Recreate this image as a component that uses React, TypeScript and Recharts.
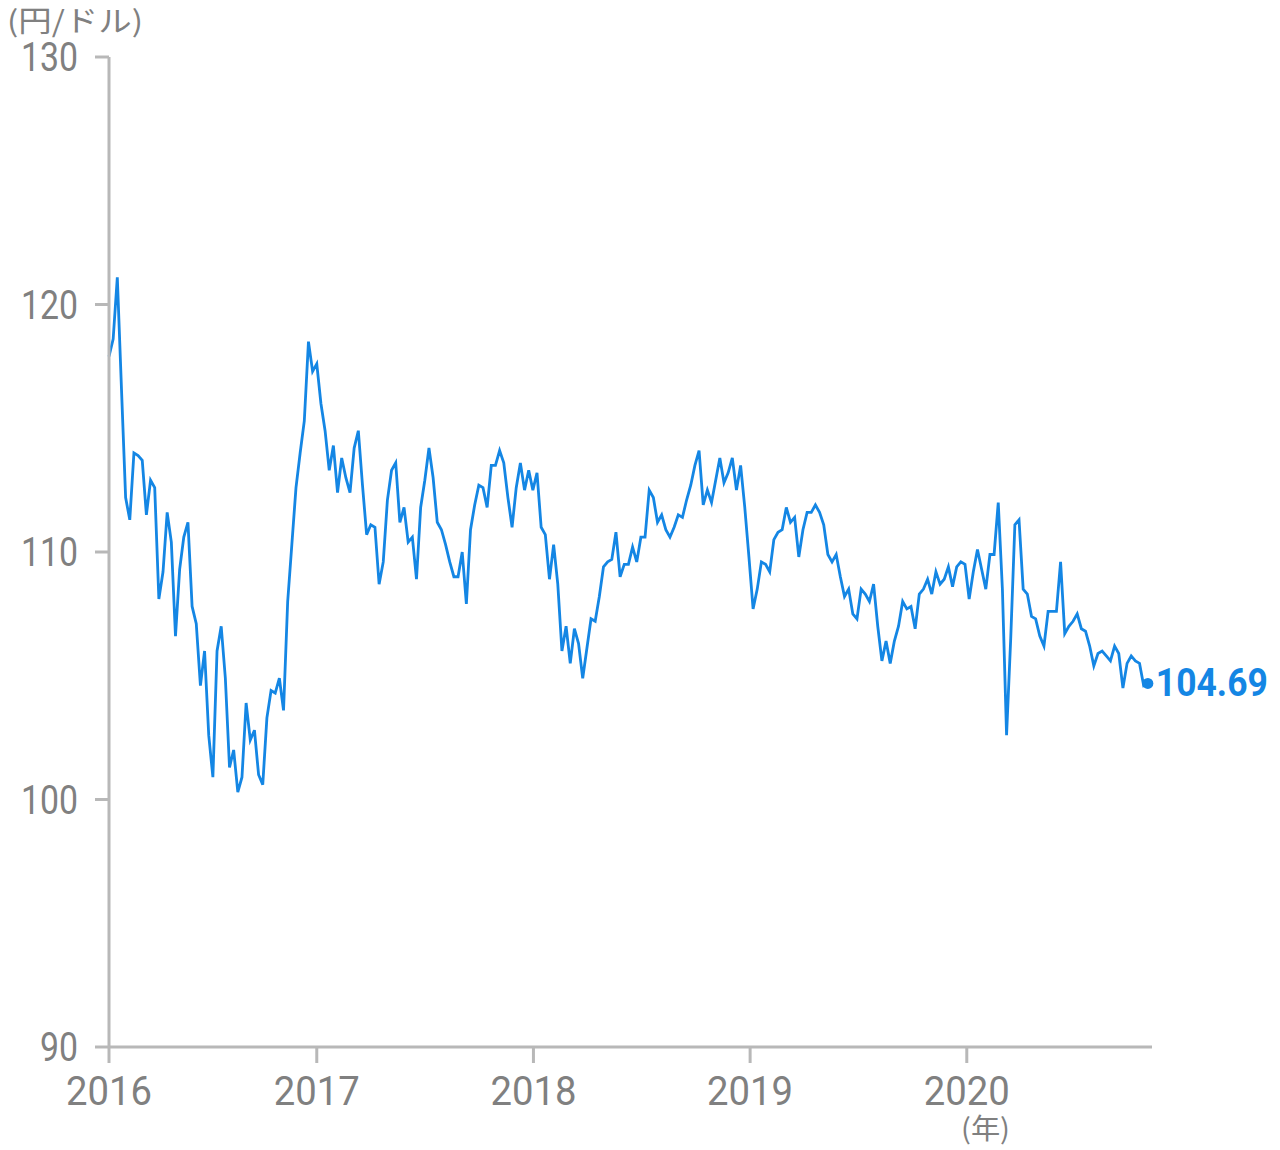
import React from "react";
import { LineChart, Line, XAxis, YAxis } from "recharts";

// Weekly USD/JPY readings, first week starting 2016-01-17
const START = Date.UTC(2016, 0, 17);
const WEEK = 7 * 86400000;
const WEEK_COUNT = 251;

const rates: number[] = [
  117.9, 118.6, 121.1, 116.6, 112.2, 111.3, 114.0, 113.9, 113.7, 111.5,
  112.9, 112.6, 108.1, 109.2, 111.6, 110.4, 106.6, 109.3, 110.6, 111.2,
  107.8, 107.1, 104.6, 106.0, 102.6, 100.9, 106.0, 107.0, 104.9, 101.3,
  102.0, 100.3, 100.9, 103.9, 102.4, 102.8, 101.0, 100.6, 103.3, 104.4,
  104.3, 104.9, 103.6, 108.0, 110.3, 112.6, 114.0, 115.3, 118.5, 117.3,
  117.6, 116.0, 114.9, 113.3, 114.3, 112.4, 113.8, 113.0, 112.4, 114.2,
  114.9, 112.7, 110.7, 111.1, 111.0, 108.7, 109.6, 112.1, 113.3, 113.6,
  111.2, 111.8, 110.4, 110.6, 108.9, 111.8, 112.9, 114.2, 113.0, 111.2,
  110.9, 110.3, 109.6, 109.0, 109.0, 110.0, 107.9, 110.9, 111.9, 112.7,
  112.6, 111.8, 113.5, 113.5, 114.1, 113.6, 112.2, 111.0, 112.6, 113.6,
  112.5, 113.3, 112.5, 113.2, 111.0, 110.7, 108.9, 110.3, 108.7, 106.0,
  107.0, 105.5, 106.9, 106.3, 104.9, 106.1, 107.3, 107.2, 108.2, 109.4,
  109.6, 109.7, 110.8, 109.0, 109.5, 109.5, 110.2, 109.6, 110.6, 110.6,
  112.5, 112.2, 111.2, 111.5, 110.9, 110.6, 111.0, 111.5, 111.4, 112.1,
  112.7, 113.5, 114.1, 111.9, 112.5, 112.0, 112.9, 113.8, 112.8, 113.2,
  113.8, 112.5, 113.5, 111.8, 109.8, 107.7, 108.5, 109.6, 109.5, 109.2,
  110.5, 110.8, 110.9, 111.8, 111.2, 111.4, 109.8, 110.9, 111.6, 111.6,
  111.9, 111.6, 111.1, 109.9, 109.6, 109.9, 109.0, 108.2, 108.5, 107.5,
  107.3, 108.5, 108.3, 108.0, 108.7, 107.0, 105.6, 106.4, 105.5, 106.4,
  107.0, 108.0, 107.7, 107.8, 106.9, 108.3, 108.5, 108.9, 108.3, 109.2,
  108.7, 108.9, 109.4, 108.6, 109.4, 109.6, 109.5, 108.1, 109.2, 110.1,
  109.3, 108.5, 109.9, 109.9, 112.0, 108.5, 102.6, 106.5, 111.1, 111.3,
  108.5, 108.3, 107.4, 107.3, 106.6, 106.2, 107.6, 107.6, 107.6, 109.6,
  106.7, 107.0, 107.2, 107.5, 106.9, 106.8, 106.2, 105.4, 105.9, 106.0,
  105.8, 105.6, 106.2, 105.9, 104.5, 105.5, 105.8, 105.6, 105.5, 104.6,
  104.69,
];

const yTicks = [90, 100, 110, 120, 130];
const yearTicks = [START, Date.UTC(2017, 0, 1), Date.UTC(2018, 0, 1), Date.UTC(2019, 0, 1), Date.UTC(2020, 0, 1)];
const unitLabel = "(円/ドル)";
const yearLabel = "(年)";

const data = rates.map((v, i) => ({ t: START + i * WEEK, v }));

const BLUE = "#1486e4";
const GREY_TEXT = "#808080";
const GREY_AXIS = "#b8b8b8";

const XTick = (props: any) => {
  const { x, y, payload } = props;
  const label = String(new Date(payload.value).getUTCFullYear());
  return (
    <text x={x} y={y + 42} textAnchor="middle" fontSize={40} fill={GREY_TEXT}
      fontFamily="Roboto" textLength={86} lengthAdjust="spacingAndGlyphs">
      {label}
    </text>
  );
};

const YTick = (props: any) => {
  const { x, y, payload } = props;
  const label = String(payload.value);
  return (
    <text x={x} y={y + 14} textAnchor="end" fontSize={40} fill={GREY_TEXT}
      fontFamily="Roboto" textLength={label.length * 19} lengthAdjust="spacingAndGlyphs">
      {label}
    </text>
  );
};

const EndDot = (props: any) => {
  const { cx, cy, index } = props;
  if (index !== rates.length - 1) return <g key={`d${index}`} />;
  return (
    <g key={`d${index}`}>
      <circle cx={cx} cy={cy} r={5.5} fill={BLUE} />
      <text x={cx + 8} y={cy + 13} fontSize={38} fontWeight={700} fill={BLUE}
        fontFamily="Roboto" textLength={112} lengthAdjust="spacingAndGlyphs">
        {rates[rates.length - 1].toFixed(2)}
      </text>
    </g>
  );
};

export default function App() {
  return (
    <div style={{ position: "absolute", left: 0, top: 0, width: 1280, height: 1150, background: "#fff" }}>
      <LineChart width={1280} height={1150} data={data}
        margin={{ top: 57, right: 128, bottom: 43, left: 49 }}>
        <XAxis dataKey="t" type="number" scale="time" domain={[START, START + WEEK_COUNT * WEEK]}
          ticks={yearTicks} height={60} tickSize={16} tickMargin={0}
          axisLine={{ stroke: GREY_AXIS, strokeWidth: 3 }}
          tickLine={{ stroke: GREY_AXIS, strokeWidth: 3 }}
          tick={<XTick />} interval={0} />
        <YAxis type="number" domain={[90, 130]} ticks={yTicks} width={60}
          tickSize={14} tickMargin={17}
          axisLine={{ stroke: GREY_AXIS, strokeWidth: 3 }}
          tickLine={{ stroke: GREY_AXIS, strokeWidth: 3 }}
          tick={<YTick />} interval={0} />
        <Line type="linear" dataKey="v" stroke={BLUE} strokeWidth={2.8}
          dot={<EndDot />} activeDot={false} isAnimationActive={false} />
      </LineChart>
      <svg width={1280} height={1150} style={{ position: "absolute", left: 0, top: 0, pointerEvents: "none" }}>
        <text x={7} y={32} fontSize={29} fill={GREY_TEXT} fontFamily="'Noto Sans CJK JP'"
          textLength={136} lengthAdjust="spacingAndGlyphs">
          {unitLabel}
        </text>
        <text x={961} y={1139} fontSize={28} fill={GREY_TEXT} fontFamily="'Noto Sans CJK JP'"
          textLength={49} lengthAdjust="spacingAndGlyphs">
          {yearLabel}
        </text>
      </svg>
    </div>
  );
}
